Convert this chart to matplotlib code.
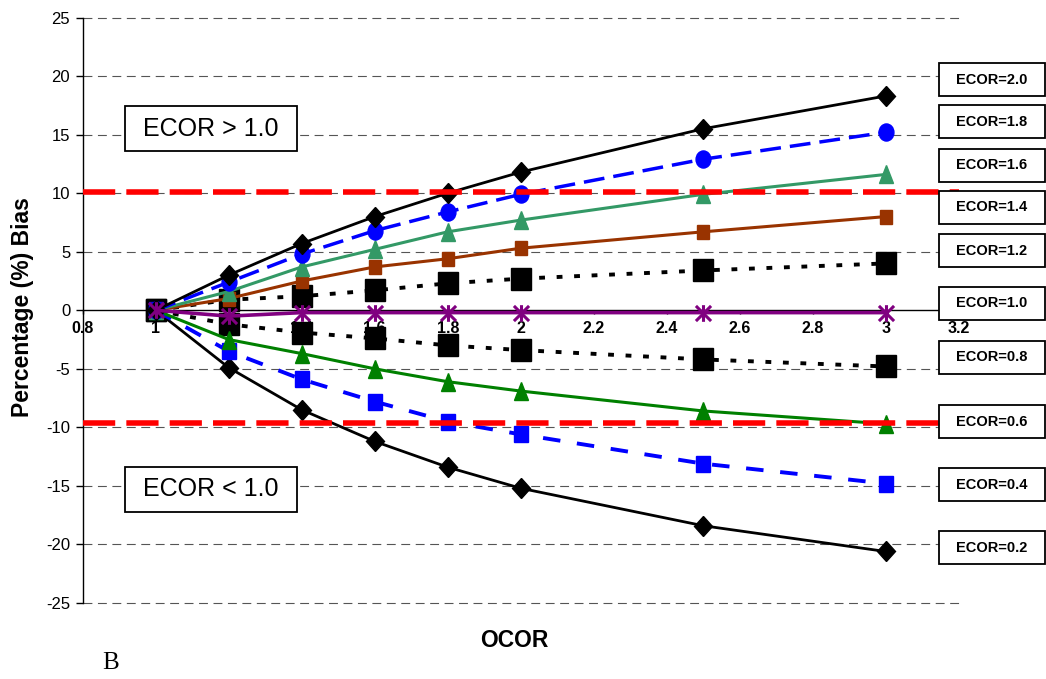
import matplotlib
matplotlib.use("Agg")
import matplotlib.pyplot as plt
from matplotlib.markers import MarkerStyle
from matplotlib.patches import Rectangle
from matplotlib.path import Path
from matplotlib.transforms import Affine2D

plt.rcParams['font.family'] = ['Liberation Sans', 'DejaVu Sans']

# OCOR values and percentage bias for each ECOR curve
ocor = [1, 1.2, 1.4, 1.6, 1.8, 2, 2.5, 3]
ecor_20 = [0, 3.0, 5.7, 8.0, 10.0, 11.8, 15.5, 18.3]
ecor_18 = [0, 2.4, 4.8, 6.8, 8.4, 9.9, 12.9, 15.2]
ecor_16 = [0, 1.6, 3.7, 5.2, 6.7, 7.7, 9.9, 11.6]
ecor_14 = [0, 1.0, 2.5, 3.7, 4.4, 5.3, 6.7, 8.0]
ecor_12 = [0, 0.9, 1.2, 1.7, 2.3, 2.7, 3.4, 4.0]
ecor_10 = [0, -0.5, -0.2, -0.2, -0.2, -0.2, -0.2, -0.2]
ecor_08 = [0, -1.2, -1.9, -2.4, -3.0, -3.4, -4.2, -4.8]
ecor_06 = [0, -2.5, -3.7, -5.0, -6.1, -6.9, -8.6, -9.7]
ecor_04 = [0, -3.5, -5.9, -7.8, -9.5, -10.6, -13.1, -14.8]
ecor_02 = [0, -4.9, -8.5, -11.2, -13.4, -15.2, -18.4, -20.6]

labels = ['ECOR=2.0', 'ECOR=1.8', 'ECOR=1.6', 'ECOR=1.4', 'ECOR=1.2',
          'ECOR=1.0', 'ECOR=0.8', 'ECOR=0.6', 'ECOR=0.4', 'ECOR=0.2']
label_y = [19.7, 16.1, 12.4, 8.8, 5.1, 0.6, -4.0, -9.5, -14.9, -20.3]

upper_limit = 10.1
lower_limit = -9.6

x_ticks = [0.8, 1, 1.2, 1.4, 1.6, 1.8, 2, 2.2, 2.4, 2.6, 2.8, 3, 3.2]
x_tick_text = ['0.8', '1', '1.2', '1.4', '1.6', '1.8', '2', '2.2', '2.4', '2.6', '2.8', '3', '3.2']
y_ticks = [-25, -20, -15, -10, -5, 0, 5, 10, 15, 20, 25]


def mk(name):
    # markers come out slightly taller than wide
    return MarkerStyle(name, transform=Affine2D().scale(0.93, 1.07))


star = Path([(-0.5, -0.5), (0.5, 0.5), (-0.5, 0.5), (0.5, -0.5), (0, -0.55), (0, 0.55)],
            [Path.MOVETO, Path.LINETO, Path.MOVETO, Path.LINETO, Path.MOVETO, Path.LINETO])

fig = plt.figure(figsize=(10.46, 6.79), dpi=100)
ax = fig.add_axes([0.0791, 0.1119, 0.8375, 0.8623])

ax.set_xlim(0.8, 3.2)
ax.set_ylim(-25, 25)

# dotted black curves go underneath
ax.plot(ocor, ecor_12, color='black', lw=2.8, ls=(0, (1.5, 3)), marker=mk('s'), ms=15, zorder=2)
ax.plot(ocor, ecor_08, color='black', lw=2.8, ls=(0, (1.5, 3)), marker=mk('s'), ms=15, zorder=2)

ax.plot(ocor, ecor_02, color='black', lw=2, marker=mk('D'), ms=9.5, zorder=3)
ax.plot(ocor, ecor_04, color='#0000FF', lw=2.8, ls=(0, (4.5, 4.3)), marker=mk('s'), ms=11, zorder=3)
ax.plot(ocor, ecor_06, color='#008000', lw=2.2, marker=mk('^'), ms=11.5, zorder=3)
ax.plot(ocor, ecor_14, color='#993300', lw=2.2, marker=mk('s'), ms=10, zorder=3)
ax.plot(ocor, ecor_16, color='#339966', lw=2.2, marker=mk('^'), ms=11.5, zorder=3)
ax.plot(ocor, ecor_18, color='#0000FF', lw=2.5, ls=(0, (6, 2.6)), marker=mk('o'), ms=11.5, zorder=3)
ax.plot(ocor, ecor_20, color='black', lw=2, marker=mk('D'), ms=9.5, zorder=3)
ax.plot(ocor, ecor_10, color='#800080', lw=2.6, zorder=3)
ax.plot(ocor, ecor_10, ls='none', marker=star, ms=12, mew=2.2, mec='#800080', zorder=3)

# +/- 10% limits
ax.axhline(upper_limit, color='#FF0000', lw=4, ls=(0, (5.8, 2)), zorder=4)
ax.axhline(lower_limit, color='#FF0000', lw=4, ls=(0, (5.8, 2)), zorder=4)

# axes at x=0.8 and y=0
ax.spines['top'].set_visible(False)
ax.spines['right'].set_visible(False)
ax.spines['bottom'].set_position(('data', 0))
ax.spines['left'].set_linewidth(1)
ax.spines['bottom'].set_linewidth(1)

ax.set_yticks(y_ticks)
ax.set_yticklabels([str(v) for v in y_ticks])
ax.set_xticks(x_ticks)
ax.set_xticklabels(x_tick_text, fontweight='bold')
ax.tick_params(axis='y', direction='out', length=5, width=1, pad=4, labelsize=12)
ax.tick_params(axis='x', direction='out', length=3, width=1, pad=5, labelsize=11.5)

for v in y_ticks:
    if v != 0:
        ax.axhline(v, color='#555555', lw=0.8, ls=(0, (8, 5)), zorder=0.8, clip_on=False)
ax.set_axisbelow(True)

fig.text(0.0215, 0.548, 'Percentage (%) Bias', rotation=90, ha='center', va='center',
         fontsize=16.5, fontweight='bold')
fig.text(0.492, 0.056, 'OCOR', ha='center', va='center', fontsize=16.5, fontweight='bold')
fig.text(0.106, 0.024, 'B', ha='center', va='center', fontsize=18, family='Liberation Serif')

# region captions
for txt, y0, y1 in [('ECOR > 1.0', 13.59, 17.43), ('ECOR < 1.0', -17.21, -13.37)]:
    ax.add_patch(Rectangle((0.916, y0), 0.471, y1 - y0, facecolor='white', edgecolor='black',
                           lw=1.3, zorder=5))
    ax.text(1.1515, (y0 + y1) / 2, txt, ha='center', va='center', fontsize=18, zorder=6)

# curve labels on the right
for txt, yc in zip(labels, label_y):
    ax.add_patch(Rectangle((3.146, yc - 1.41), 0.29, 2.82, facecolor='white', edgecolor='black',
                           lw=1.3, zorder=5, clip_on=False))
    ax.text(3.291, yc, txt, ha='center', va='center', fontsize=10.5, fontweight='bold',
            zorder=6, clip_on=False)

fig.savefig('out.png', dpi=100)
